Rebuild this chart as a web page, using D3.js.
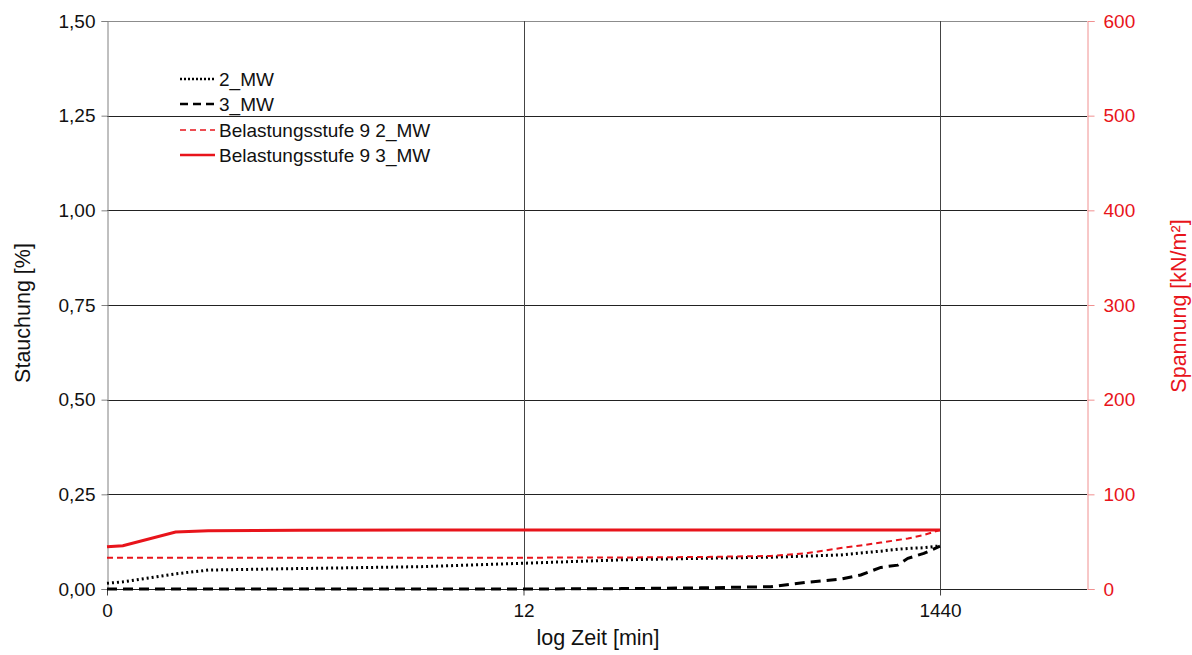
<!DOCTYPE html>
<html><head><meta charset="utf-8">
<script src="https://cdn.jsdelivr.net/npm/d3@7"></script>
<style>body{margin:0;background:#fff}svg{display:block}text{font-family:"Liberation Sans",Arial,sans-serif}</style>
</head><body>
<svg id="c" width="1192" height="655"></svg>
<script>
// time in minutes (log axis, tick "0" stands for the first reading)
const times = [0.1, 0.12, 0.22, 0.32, 0.92, 3.7, 12, 37, 92, 206, 315, 460, 579, 729, 886, 995, 1195, 1440];
const mw2 = [0.015, 0.019, 0.040, 0.050, 0.054, 0.059, 0.068, 0.077, 0.081, 0.084, 0.087, 0.090, 0.095, 0.100, 0.105, 0.107, 0.109, 0.114];
const mw3 = [0.000, 0.000, 0.000, 0.000, 0.000, 0.000, 0.000, 0.001, 0.003, 0.006, 0.018, 0.026, 0.037, 0.057, 0.063, 0.081, 0.094, 0.113];
const bel2 = [33.1, 33.1, 33.1, 33.1, 33.1, 33.1, 33.1, 33.3, 33.8, 34.9, 38.0, 43.3, 46.0, 49.0, 51.8, 53.3, 57.0, 62.3];
const bel3 = [44.7, 45.7, 60.2, 61.6, 62.0, 62.2, 62.3, 62.3, 62.3, 62.3, 62.3, 62.3, 62.3, 62.3, 62.3, 62.3, 62.3, 62.3];
const xTicks = [0.1, 12, 1440];
const xTickLabels = ["0", "12", "1440"];
const yLeftTicks = [0, 0.25, 0.5, 0.75, 1.0, 1.25, 1.5];
const yRightTicks = [0, 100, 200, 300, 400, 500, 600];
const seriesNames = ["2_MW", "3_MW", "Belastungsstufe 9 2_MW", "Belastungsstufe 9 3_MW"];

const L = 107, R = 1087, T = 21, B = 589;
const FS = 19, TS = 21.5;
const svg = d3.select("#c");
const x = d3.scaleLog().domain([0.1, 7800]).range([L, R]);
const yL = d3.scaleLinear().domain([0, 1.5]).range([B, T]);
const yR = d3.scaleLinear().domain([0, 600]).range([B, T]);
const red = "#e8141b";

// horizontal grid
svg.append("g").selectAll("line").data(yLeftTicks.filter(d => d > 0)).join("line")
  .attr("x1", L).attr("x2", R).attr("y1", d => Math.round(yL(d)) + 0.5).attr("y2", d => Math.round(yL(d)) + 0.5)
  .attr("stroke", d => d === 1.5 ? "#8c8c8c" : "#222").attr("stroke-width", 1);
// vertical grid
svg.append("g").selectAll("line").data(xTicks.slice(1)).join("line")
  .attr("x1", d => Math.round(x(d)) + 0.5).attr("x2", d => Math.round(x(d)) + 0.5).attr("y1", T).attr("y2", B)
  .attr("stroke", "#444").attr("stroke-width", 1);

// left axis
const gl = svg.append("g").attr("transform", `translate(${L + 0.5},0)`)
  .call(d3.axisLeft(yL).tickValues(yLeftTicks).tickSize(6).tickPadding(6)
    .tickFormat(d => d3.format(".2f")(d).replace(".", ",")));
gl.select(".domain").attr("stroke", "#808080");
gl.selectAll(".tick line").attr("stroke", "#808080");
gl.selectAll("text").attr("font-size", FS).attr("fill", "#111").attr("font-family", "Liberation Sans, Arial, sans-serif");

// right axis
const gr = svg.append("g").attr("transform", `translate(${R + 0.5},0)`)
  .call(d3.axisRight(yR).tickValues(yRightTicks).tickSize(7).tickPadding(9));
gr.select(".domain").attr("stroke", "#f09090");
gr.selectAll(".tick line").attr("stroke", "#f09090");
gr.selectAll("text").attr("font-size", FS).attr("fill", red).attr("font-family", "Liberation Sans, Arial, sans-serif");

// bottom axis
const gb = svg.append("g").attr("transform", `translate(0,${B + 0.5})`)
  .call(d3.axisBottom(x).tickValues(xTicks).tickSize(6).tickPadding(8)
    .tickFormat((d, i) => xTickLabels[i]));
gb.select(".domain").attr("stroke", "#222").attr("d", `M${L},0H${R}`);
gb.selectAll(".tick line").attr("stroke", "#444");
gb.selectAll("text").attr("font-size", FS).attr("fill", "#111").attr("font-family", "Liberation Sans, Arial, sans-serif");

// titles
svg.append("text").attr("x", 598).attr("y", 645).attr("text-anchor", "middle").attr("font-size", TS).attr("fill", "#111").text("log Zeit [min]");
svg.append("text").attr("transform", "translate(30,313) rotate(-90)").attr("text-anchor", "middle").attr("font-size", TS).attr("fill", "#111").text("Stauchung [%]");
svg.append("text").attr("transform", "translate(1186,306) rotate(-90)").attr("text-anchor", "middle").attr("font-size", TS).attr("fill", red).text("Spannung [kN/m²]");

// series
const idx = d3.range(times.length);
const lineL = arr => d3.line().x(i => x(times[i])).y(i => yL(arr[i]))(idx);
const lineR = arr => d3.line().x(i => x(times[i])).y(i => yR(arr[i]))(idx);
const styles = [
  {d: lineL(mw2), stroke: "#000", w: 3, dash: "2,3"},
  {d: lineL(mw3), stroke: "#000", w: 3, dash: "10,6"},
  {d: lineR(bel2), stroke: red, w: 2, dash: "6,4"},
  {d: lineR(bel3), stroke: red, w: 3, dash: null}
];
svg.append("g").selectAll("path").data(styles).join("path")
  .attr("d", s => s.d).attr("fill", "none").attr("stroke", s => s.stroke)
  .attr("stroke-width", s => s.w).attr("stroke-dasharray", s => s.dash);

// legend
const legY = [79, 104, 130, 155];
const lg = svg.append("g").selectAll("g").data(styles).join("g")
  .attr("transform", (s, i) => `translate(0,${legY[i]})`);
lg.append("line").attr("x1", 180).attr("x2", 215).attr("y1", 0).attr("y2", 0)
  .attr("stroke", s => s.stroke).attr("stroke-width", s => s.w === 3 ? 2.5 : 1.6)
  .attr("stroke-dasharray", (s, i) => i === 0 ? "2,2" : i === 1 ? "8,5" : s.dash);
lg.append("text").attr("x", 219).attr("y", 7).attr("font-size", FS).attr("fill", "#111")
  .text((s, i) => seriesNames[i]);
</script>
</body></html>
